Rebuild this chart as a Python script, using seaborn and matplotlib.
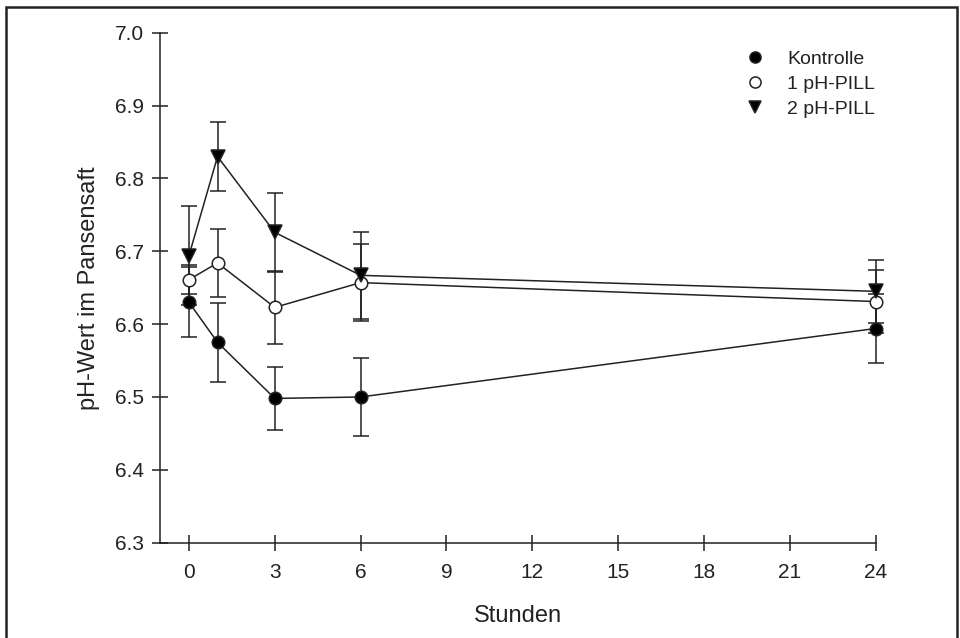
import pandas as pd
import seaborn as sns
import matplotlib.pyplot as plt
from matplotlib.lines import Line2D
from matplotlib.patches import Rectangle

stunden = [0, 1, 3, 6, 24]
kontrolle = [6.630, 6.575, 6.498, 6.500, 6.594]
kontrolle_err = [0.048, 0.054, 0.043, 0.054, 0.048]
pill_1 = [6.661, 6.684, 6.623, 6.657, 6.631]
pill_1_err = [0.020, 0.047, 0.050, 0.053, 0.043]
pill_2 = [6.694, 6.830, 6.726, 6.667, 6.645]
pill_2_err = [0.068, 0.047, 0.054, 0.060, 0.043]

gruppen = ["Kontrolle", "1 pH-PILL", "2 pH-PILL"]
x_ticks = [0, 3, 6, 9, 12, 15, 18, 21, 24]
y_ticks = [6.3, 6.4, 6.5, 6.6, 6.7, 6.8, 6.9, 7.0]

df = pd.DataFrame({
    "Stunden": stunden * 3,
    "pH": kontrolle + pill_1 + pill_2,
    "err": kontrolle_err + pill_1_err + pill_2_err,
    "Gruppe": [g for g in gruppen for _ in stunden],
})

sns.set_theme(style="ticks")
plt.rcParams["font.family"] = ["Liberation Sans", "DejaVu Sans"]

fig = plt.figure(figsize=(9.6, 6.38), dpi=100)
ax = fig.add_axes([0.167, 0.1494, 0.745, 0.7993])

styles = {
    "Kontrolle": dict(marker="o", mfc="black", ms=9),
    "1 pH-PILL": dict(marker="o", mfc="white", ms=9),
    "2 pH-PILL": dict(marker="v", mfc="black", ms=9.5),
}

for g in gruppen:
    sub = df[df["Gruppe"] == g]
    eb = ax.errorbar(sub["Stunden"], sub["pH"], yerr=sub["err"], fmt="none",
                     ecolor="#222222", elinewidth=1.1, capsize=6, capthick=1.1, zorder=2)
    for art in eb.lines[1] + eb.lines[2]:
        art.set_clip_on(False)
    sns.lineplot(data=sub, x="Stunden", y="pH", ax=ax, color="#222222",
                 linewidth=1.1, marker=styles[g]["marker"], markersize=styles[g]["ms"],
                 markerfacecolor=styles[g]["mfc"], markeredgecolor="#222222",
                 markeredgewidth=1.1, legend=False, zorder=3, clip_on=False)

ax.set_xlim(-1, 24)
ax.set_ylim(6.3, 7.0)
ax.set_xticks(x_ticks)
ax.set_yticks(y_ticks)
ax.set_yticklabels([f"{v:.1f}" for v in y_ticks])
ax.spines["top"].set_visible(False)
ax.spines["right"].set_visible(False)
for s in ["left", "bottom"]:
    ax.spines[s].set_linewidth(1.1)
    ax.spines[s].set_color("#222222")
ax.tick_params(direction="inout", length=11.5, width=1.1, color="#222222",
               labelsize=15, labelcolor="#222222")
ax.tick_params(axis="y", pad=6)
ax.tick_params(axis="x", pad=9)

ax.set_xlabel("Stunden", fontsize=17, color="#222222", labelpad=16.5)
ax.set_ylabel("pH-Wert im Pansensaft", fontsize=17, color="#222222", labelpad=10.5)

handles = [Line2D([], [], linestyle="none", marker=styles[g]["marker"],
                  markersize=8, markerfacecolor=styles[g]["mfc"],
                  markeredgecolor="#222222", markeredgewidth=1.1) for g in gruppen]
fig.legend(handles, gruppen, loc="upper left", bbox_to_anchor=(0.7764, 0.9213),
           frameon=False, fontsize=14, handlelength=1.0, handletextpad=1.15,
           borderpad=0, borderaxespad=0, labelspacing=0.38, labelcolor="#222222")

fig.patches.append(Rectangle((0.006, -0.1), 0.991, 1.0894, transform=fig.transFigure,
                             fill=False, edgecolor="#222222", linewidth=1.8,
                             clip_on=False))

fig.savefig("out.png", dpi=100, facecolor="white")
